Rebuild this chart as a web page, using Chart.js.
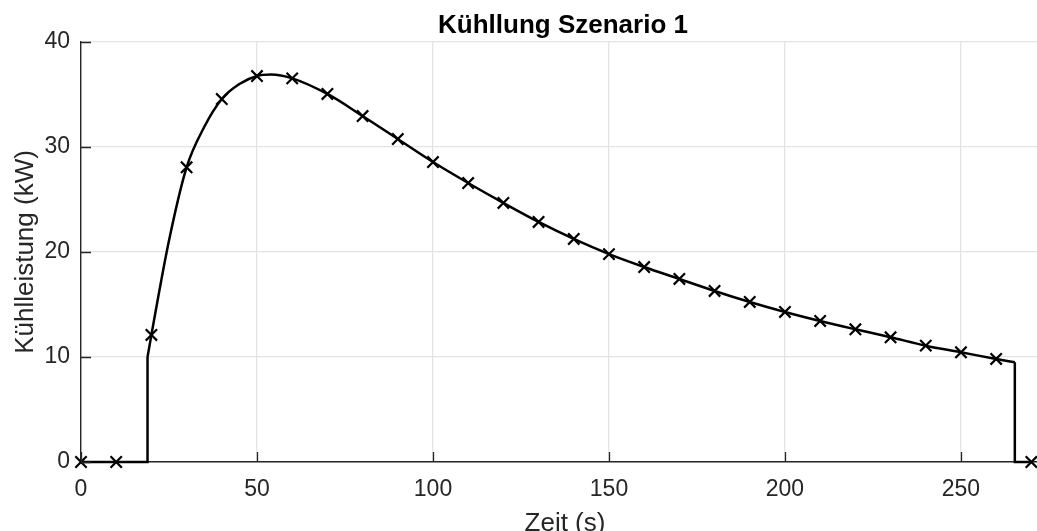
<!DOCTYPE html>
<html>
<head>
<meta charset="utf-8">
<script src="https://cdn.jsdelivr.net/npm/chart.js@4/dist/chart.umd.min.js"></script>
<style>
  html, body { margin: 0; padding: 0; overflow: hidden; background: #ffffff; }
  #c { display: block; width: 1037px; height: 531px; }
</style>
</head>
<body>
<canvas id="c" width="1037" height="531"></canvas>
<script>
// ---- Data ----
const chartTitle = 'Kühllung Szenario 1';
const xAxisLabel = 'Zeit (s)';
const yAxisLabel = 'Kühlleistung (kW)';

// Marker samples (every 10 s)
const markerTime = [0, 10, 20, 30, 40, 50, 60, 70, 80, 90, 100, 110, 120, 130, 140, 150, 160, 170, 180, 190, 200, 210, 220, 230, 240, 250, 260, 270];
const markerKW   = [0, 0, 12.1, 28.07, 34.57, 36.76, 36.54, 35.05, 32.95, 30.76, 28.57, 26.57, 24.67, 22.86, 21.24, 19.8, 18.57, 17.43, 16.29, 15.24, 14.29, 13.43, 12.64, 11.88, 11.08, 10.45, 9.81, 0];

// Smooth cooling curve (while running)
const curveTime = [18.9, 20, 25, 30, 35, 40, 45, 50, 54, 60, 70, 80, 90, 100, 110, 120, 130, 140, 150, 160, 170, 180, 190, 200, 210, 220, 230, 240, 250, 260, 265.3];
const curveKW   = [10.0, 12.1, 21.1, 28.07, 31.9, 34.57, 36.0, 36.76, 36.9, 36.54, 35.05, 32.95, 30.76, 28.57, 26.57, 24.67, 22.86, 21.24, 19.8, 18.57, 17.43, 16.29, 15.24, 14.29, 13.43, 12.64, 11.88, 11.08, 10.45, 9.81, 9.5];

// Off phase before start and after stop
const startTime = [0, 18.9, 18.9];
const startKW   = [0, 0, 10.0];
const stopTime  = [265.3, 265.3, 270];
const stopKW    = [9.5, 0, 0];

// Axis ranges / ticks
const xMin = 0, xMax = 271.6, xStep = 50;
const yMin = 0, yMax = 40, yStep = 10;

const toPts = (xs, ys) => xs.map((x, i) => ({ x: x, y: ys[i] }));

const FONT = "'Liberation Sans', Arial, Helvetica, sans-serif";
const AXIS_COLOR = '#262626';
const GRID_COLOR = '#e3e3e3';

// Inward tick marks (MATLAB style)
const inwardTicks = {
  id: 'inwardTicks',
  afterDatasetsDraw(chart) {
    const { ctx, chartArea, scales } = chart;
    const xs = scales.x, ys = scales.y;
    ctx.save();
    ctx.strokeStyle = AXIS_COLOR;
    ctx.lineWidth = 1.3;
    ctx.beginPath();
    xs.ticks.forEach(t => {
      const px = Math.round(xs.getPixelForValue(t.value)) + 0.5;
      ctx.moveTo(px, chartArea.bottom);
      ctx.lineTo(px, chartArea.bottom - 10);
    });
    ys.ticks.forEach(t => {
      const py = Math.round(ys.getPixelForValue(t.value)) + 0.5;
      ctx.moveTo(chartArea.left, py);
      ctx.lineTo(chartArea.left + 10, py);
    });
    ctx.stroke();
    ctx.restore();
  }
};

// Title and x-axis label, centred over the (cropped) axes as in the reference
const axesTexts = {
  id: 'axesTexts',
  afterDraw(chart) {
    const { ctx } = chart;
    ctx.save();
    ctx.textAlign = 'center';
    ctx.textBaseline = 'alphabetic';
    ctx.fillStyle = '#000000';
    ctx.font = 'bold 26px ' + FONT;
    ctx.fillText(chartTitle, 563, 32.7);
    ctx.fillStyle = AXIS_COLOR;
    ctx.font = '26px ' + FONT;
    ctx.fillText(xAxisLabel, 565, 530.6);
    ctx.restore();
  }
};

const lineStyle = {
  borderColor: '#000000',
  borderWidth: 2.5,
  pointRadius: 0,
  fill: false,
  clip: false
};

new Chart(document.getElementById('c'), {
  type: 'line',
  data: {
    datasets: [
      Object.assign({ label: 'start', data: toPts(startTime, startKW), tension: 0 }, lineStyle),
      Object.assign({ label: 'curve', data: toPts(curveTime, curveKW), cubicInterpolationMode: 'monotone' }, lineStyle),
      Object.assign({ label: 'stop', data: toPts(stopTime, stopKW), tension: 0 }, lineStyle),
      {
        label: 'samples',
        data: toPts(markerTime, markerKW),
        showLine: false,
        clip: false,
        pointStyle: 'crossRot',
        pointRadius: 8,
        pointBorderWidth: 2.2,
        pointBorderColor: '#000000',
        pointBackgroundColor: '#000000'
      }
    ]
  },
  options: {
    responsive: false,
    maintainAspectRatio: false,
    devicePixelRatio: 1,
    animation: false,
    layout: { autoPadding: false, padding: { top: 42, left: 0, right: 0, bottom: 0 } },
    plugins: {
      legend: { display: false },
      tooltip: { enabled: false },
      title: { display: false, text: chartTitle }
    },
    scales: {
      x: {
        type: 'linear',
        min: xMin, max: xMax,
        afterFit(scale) { scale.height = 69; scale.paddingRight = 0; scale.paddingLeft = 0; },
        ticks: { stepSize: xStep, includeBounds: false, color: AXIS_COLOR, padding: 14, maxRotation: 0,
                 font: { family: FONT, size: 23 } },
        grid: { color: GRID_COLOR, lineWidth: 1.3, drawTicks: false },
        border: { display: true, color: AXIS_COLOR, width: 1.4 },
        title: { display: false, text: xAxisLabel }
      },
      y: {
        type: 'linear',
        min: yMin, max: yMax,
        afterFit(scale) { scale.width = 81; },
        ticks: { stepSize: yStep, color: AXIS_COLOR, padding: 11, font: { family: FONT, size: 23 } },
        grid: { color: GRID_COLOR, lineWidth: 1.3, drawTicks: false },
        border: { display: true, color: AXIS_COLOR, width: 1.4 },
        title: { display: true, text: yAxisLabel, color: AXIS_COLOR,
                 font: { family: FONT, size: 26, lineHeight: 1.2 }, padding: { top: 10, bottom: 0 } }
      }
    }
  },
  plugins: [inwardTicks, axesTexts]
});
</script>
</body>
</html>
